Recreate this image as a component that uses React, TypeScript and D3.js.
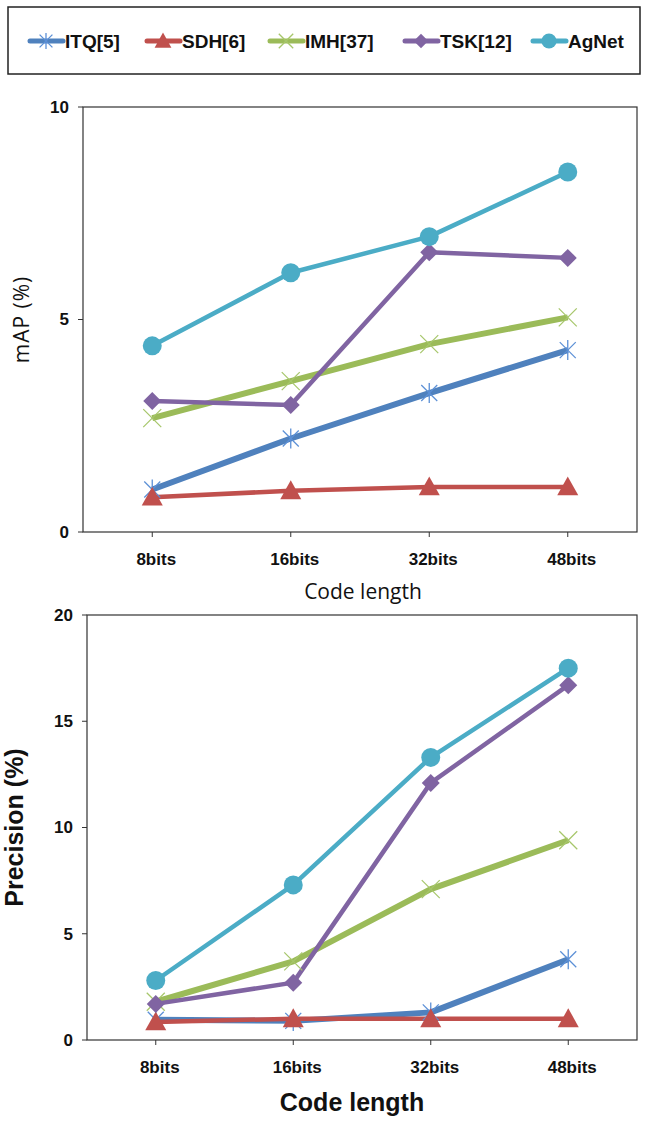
import React from "react"
import * as d3 from "d3"

const categories = ["8bits", "16bits", "32bits", "48bits"]
const seriesNames = ["ITQ[5]", "SDH[6]", "IMH[37]", "TSK[12]", "AgNet"]

// mAP (%) values, top chart
const mapITQ = [1.0, 2.2, 3.27, 4.28]
const mapSDH = [0.82, 0.97, 1.06, 1.06]
const mapIMH = [2.68, 3.55, 4.42, 5.05]
const mapTSK = [3.08, 2.99, 6.58, 6.45]
const mapAgNet = [4.38, 6.1, 6.95, 8.47]

// Precision (%) values, bottom chart
const precITQ = [0.95, 0.9, 1.3, 3.8]
const precSDH = [0.85, 1.0, 1.0, 1.0]
const precIMH = [1.8, 3.7, 7.1, 9.4]
const precTSK = [1.7, 2.7, 12.1, 16.7]
const precAgNet = [2.8, 7.3, 13.3, 17.5]

const mapTicks = [0, 5, 10]
const precTicks = [0, 5, 10, 15, 20]

const colors = ["#4F81BD", "#C0504D", "#9BBB59", "#8064A2", "#4BACC6"]
const markerColors = ["#5B8FD6", "#C0504D", "#A6C66A", "#8064A2", "#4BACC6"]
const lineWidths = [6, 4.5, 6, 4.5, 4.5]

const FONT = "'Liberation Sans Narrow', 'Arial Narrow', 'Liberation Sans', sans-serif"

function Marker({ kind, x, y, color, scale = 1 }: { kind: number; x: number; y: number; color: string; scale?: number }) {
  if (kind === 0) {
    const s = 10 * scale
    return (
      <g stroke={color} strokeWidth={1.3}>
        <line x1={x} y1={y - s} x2={x} y2={y + s} />
        <line x1={x - s * 0.8} y1={y - s * 0.8} x2={x + s * 0.8} y2={y + s * 0.8} />
        <line x1={x - s * 0.8} y1={y + s * 0.8} x2={x + s * 0.8} y2={y - s * 0.8} />
      </g>
    )
  }
  if (kind === 1) {
    const s = 10.5 * scale
    return <path d={`M${x},${y - s}L${x + s},${y + s * 0.8}L${x - s},${y + s * 0.8}Z`} fill={color} />
  }
  if (kind === 2) {
    const s = 9 * scale
    return (
      <g stroke={color} strokeWidth={1.3}>
        <line x1={x - s} y1={y - s} x2={x + s} y2={y + s} />
        <line x1={x - s} y1={y + s} x2={x + s} y2={y - s} />
      </g>
    )
  }
  if (kind === 3) {
    const s = 9 * scale
    return <path d={`M${x},${y - s}L${x + s},${y}L${x},${y + s}L${x - s},${y}Z`} fill={color} />
  }
  return <circle cx={x} cy={y} r={9.5 * scale} fill={color} />
}

type PanelProps = {
  series: number[][]
  ticks: number[]
  left: number
  right: number
  top: number
  bottom: number
  yLabel: string
  yLabelX: number
  yLabelBold: boolean
  xTitleY: number
  xTitleX: number
  xTitleBold: boolean
}

function Panel(p: PanelProps) {
  const x = d3.scalePoint<string>().domain(categories).range([p.left, p.right]).padding(0.5)
  const y = d3.scaleLinear().domain([0, d3.max(p.ticks) as number]).range([p.bottom, p.top])
  const line = d3
    .line<number>()
    .x((_, i) => x(categories[i]) as number)
    .y((d) => y(d))
  const midY = (p.top + p.bottom) / 2
  return (
    <g>
      <rect x={p.left} y={p.top} width={p.right - p.left} height={p.bottom - p.top} fill="none" stroke="#333" strokeWidth={1.2} />
      {p.ticks.map((t) => (
        <g key={t}>
          <line x1={p.left - 5} x2={p.left} y1={y(t)} y2={y(t)} stroke="#333" />
          <text x={p.left - 14} y={y(t)} dy="0.35em" textAnchor="end" fontFamily={FONT} fontWeight="bold" fontSize={17} fill="#111">
            {t}
          </text>
        </g>
      ))}
      {categories.map((c) => (
        <g key={c}>
          <line x1={x(c)} x2={x(c)} y1={p.bottom} y2={p.bottom + 5} stroke="#333" />
          <text x={(x(c) as number) + 4} y={p.bottom + 27} dy="0.35em" textAnchor="middle" fontFamily={FONT} fontWeight="bold" fontSize={17} fill="#111">
            {c}
          </text>
        </g>
      ))}
      {p.series.map((s, i) => (
        <path key={i} d={line(s) as string} fill="none" stroke={colors[i]} strokeWidth={lineWidths[i]} strokeLinejoin="round" />
      ))}
      {p.series.map((s, i) =>
        s.map((v, j) => <Marker key={i + "-" + j} kind={i} x={x(categories[j]) as number} y={y(v)} color={markerColors[i]} />)
      )}
      <text
        transform={`translate(${p.yLabelX},${midY}) rotate(-90)`}
        textAnchor="middle"
        dy="0.35em"
        fontFamily={p.yLabelBold ? FONT : "'Open Sans', sans-serif"}
        fontWeight={p.yLabelBold ? "bold" : "normal"}
        fontSize={p.yLabelBold ? 25 : 21}
        letterSpacing={p.yLabelBold ? 0 : 1}
        fill="#111"
      >
        {p.yLabel}
      </text>
      <text
        x={p.xTitleX}
        y={p.xTitleY}
        dy="0.35em"
        textAnchor="middle"
        fontFamily={p.xTitleBold ? FONT : "'Open Sans', sans-serif"}
        fontWeight={p.xTitleBold ? "bold" : "normal"}
        fontSize={p.xTitleBold ? 25 : 21}
        fill="#111"
      >
        Code length
      </text>
    </g>
  )
}

const legendX = [30, 147, 270, 405, 533]

export default function App() {
  return (
    <svg width={647} height={1121} style={{ position: "absolute", left: 0, top: 0, background: "#fff" }}>
      <rect x={8} y={7} width={632} height={67} fill="none" stroke="#222" strokeWidth={1.5} />
      {seriesNames.map((n, i) => (
        <g key={n}>
          <line x1={legendX[i]} x2={legendX[i] + 33} y1={41} y2={41} stroke={colors[i]} strokeWidth={5} strokeLinecap="round" />
          <Marker kind={i} x={legendX[i] + 16} y={41} color={markerColors[i]} scale={0.8} />
          <text x={legendX[i] + 35} y={41} dy="0.35em" fontFamily={FONT} fontWeight="bold" fontSize={19} fill="#111">
            {n}
          </text>
        </g>
      ))}
      <Panel
        series={[mapITQ, mapSDH, mapIMH, mapTSK, mapAgNet]}
        ticks={mapTicks}
        left={83}
        right={637}
        top={107}
        bottom={532}
        yLabel="mAP (%)"
        yLabelX={22}
        yLabelBold={false}
        xTitleX={363}
        xTitleY={592}
        xTitleBold={false}
      />
      <Panel
        series={[precITQ, precSDH, precIMH, precTSK, precAgNet]}
        ticks={precTicks}
        left={87}
        right={637}
        top={615}
        bottom={1040}
        yLabel="Precision (%)"
        yLabelX={14}
        yLabelBold={true}
        xTitleX={352}
        xTitleY={1102}
        xTitleBold={true}
      />
    </svg>
  )
}
